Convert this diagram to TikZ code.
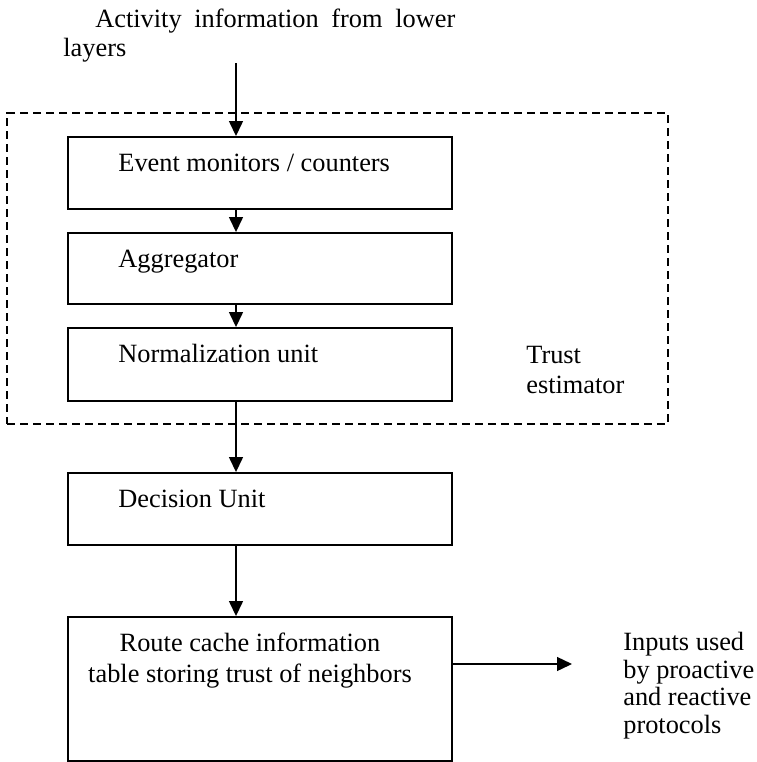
\documentclass[tikz,border=0pt]{standalone}
\usepackage{fontspec}
\setmainfont{Liberation Serif}
\usetikzlibrary{arrows.meta, positioning}

\tikzset{
    unit/.style={draw, line width=1.1pt, minimum width=7.68cm},
    unittext/.style={anchor=base west, inner sep=0pt},
    flow/.style={line width=0.8pt, -{Triangle[length=0.3cm, width=0.28cm]}},
}

\begin{document}
\begin{tikzpicture}[x=0.02cm, y=-0.02cm, font=\fontsize{15}{17}\selectfont]
    \useasboundingbox (0, 0) rectangle (757, 762);

    % trust estimator frame
    \node[draw, dashed, dash pattern=on 0.16cm off 0.1cm, line width=0.7pt,
        minimum width=13.22cm, minimum height=6.22cm, inner sep=0pt] (estimator) at (337.5, 268.5) {};
    \node[anchor=base west, inner sep=0pt, align=left] (estlabel) at (526, 393) {Trust\\estimator};

    % units
    \node[unit, minimum height=1.44cm] (events) at (260, 173) {};
    \node[unit, minimum height=1.42cm] (aggregator) at (260, 268.5) {};
    \node[unit, minimum height=1.46cm] (normalizer) at (260, 364.5) {};
    \node[unit, minimum height=1.44cm] (decision) at (260, 509) {};
    \node[unit, minimum height=2.88cm] (routecache) at (260, 689) {};

    \node[unittext] (eventstext) at ([shift={(1.02cm, -0.70cm)}]events.north west) {Event monitors / counters};
    \node[unittext] (aggregatortext) at ([shift={(1.02cm, -0.70cm)}]aggregator.north west) {Aggregator};
    \node[unittext] (normalizertext) at ([shift={(1.02cm, -0.70cm)}]normalizer.north west) {Normalization unit};
    \node[unittext] (decisiontext) at ([shift={(1.02cm, -0.70cm)}]decision.north west) {Decision Unit};
    \node[anchor=base, inner sep=0pt, align=center, font=\fontsize{15}{17.6}\selectfont] (routetext)
        at (250, 682) {Route cache information\\table storing trust of neighbors};

    % input and output texts
    \node[anchor=base west, inner sep=0pt, text width=7.84cm, align=justify] (activity)
        at (63, 27) {\hyphenpenalty=10000\relax\hspace*{0.64cm}Activity information from lower layers};
    \node[anchor=base west, inner sep=0pt, align=left, font=\fontsize{15}{15.6}\selectfont] (inputs)
        at (623, 733) {Inputs used\\by proactive\\and reactive\\protocols};

    \coordinate (src) at (236, 63);
    \coordinate (sink) at (572, 664);

    % connectors
    \draw[flow] (src) -- (src |- events.north);
    \draw[flow] ([xshift=-0.48cm]events.south) -- ([xshift=-0.48cm]aggregator.north);
    \draw[flow] ([xshift=-0.48cm]aggregator.south) -- ([xshift=-0.48cm]normalizer.north);
    \draw[flow] ([xshift=-0.48cm]normalizer.south) -- ([xshift=-0.48cm]decision.north);
    \draw[flow] ([xshift=-0.48cm]decision.south) -- ([xshift=-0.48cm]routecache.north);
    \draw[flow] (routecache.east |- sink) -- (sink);
\end{tikzpicture}
\end{document}
